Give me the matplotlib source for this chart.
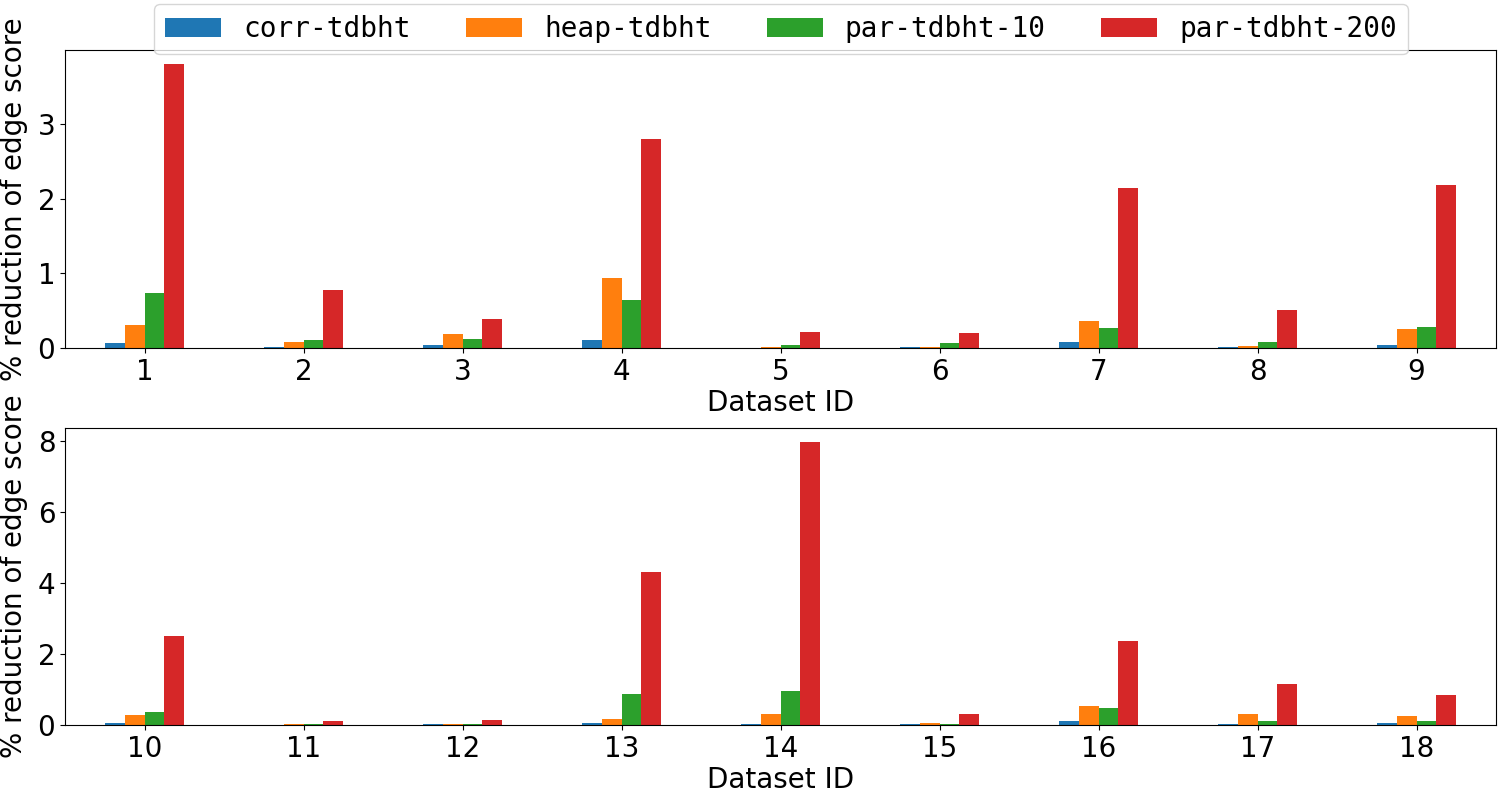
import matplotlib
matplotlib.use("Agg")
import matplotlib.pyplot as plt
import numpy as np

series = ["corr-tdbht", "heap-tdbht", "par-tdbht-10", "par-tdbht-200"]
colors = ["#1f77b4", "#ff7f0e", "#2ca02c", "#d62728"]

ids_top = ["1", "2", "3", "4", "5", "6", "7", "8", "9"]
corr_top = [0.07, 0.01, 0.04, 0.11, 0.003, 0.01, 0.08, 0.01, 0.04]
heap_top = [0.31, 0.08, 0.19, 0.94, 0.01, 0.01, 0.36, 0.03, 0.25]
par10_top = [0.74, 0.11, 0.12, 0.64, 0.04, 0.07, 0.27, 0.08, 0.28]
par200_top = [3.80, 0.78, 0.39, 2.80, 0.22, 0.20, 2.14, 0.51, 2.18]

ids_bot = ["10", "11", "12", "13", "14", "15", "16", "17", "18"]
corr_bot = [0.05, 0.005, 0.02, 0.05, 0.02, 0.02, 0.11, 0.02, 0.05]
heap_bot = [0.28, 0.02, 0.02, 0.17, 0.31, 0.05, 0.53, 0.31, 0.25]
par10_bot = [0.36, 0.02, 0.02, 0.87, 0.95, 0.02, 0.48, 0.11, 0.11]
par200_bot = [2.50, 0.11, 0.14, 4.32, 7.97, 0.31, 2.36, 1.15, 0.84]

fig = plt.figure(figsize=(15, 8), dpi=100)
ax1 = fig.add_axes([65/1500, 1-348/800, (1496-65)/1500, (348-50)/800])
ax2 = fig.add_axes([65/1500, 1-725/800, (1496-65)/1500, (725-428)/800])

w = 0.125
def draw(ax, ids, data):
    x = np.arange(len(ids))
    handles = []
    for i, (vals, c, name) in enumerate(zip(data, colors, series)):
        h = ax.bar(x - 0.25 + w*i + w/2, vals, width=w, color=c, label=name)
        handles.append(h)
    ax.set_xticks(x)
    ax.set_xticklabels(ids)
    ax.set_xlim(-0.5, len(ids) - 0.5)
    ax.tick_params(labelsize=20)
    ax.set_xlabel("Dataset ID", fontsize=20, labelpad=2)
    ax.set_ylabel("% reduction of edge score", fontsize=20)
    ax.yaxis.set_label_coords(-0.026, 0.5)
    return handles

handles = draw(ax1, ids_top, [corr_top, heap_top, par10_top, par200_top])
draw(ax2, ids_bot, [corr_bot, heap_bot, par10_bot, par200_bot])
ax1.set_ylim(0, 3.99)
ax1.set_yticks([0, 1, 2, 3])
ax2.set_ylim(0, 8.37)
ax2.set_yticks([0, 2, 4, 6, 8])

fig.legend(handles, series, loc="upper center", bbox_to_anchor=(0.5207, 1.0), ncol=4,
           prop={"family": "DejaVu Sans Mono", "size": 20}, columnspacing=2.0,
           handlelength=2.0, borderaxespad=0.15)

fig.savefig("out.png", dpi=100)
